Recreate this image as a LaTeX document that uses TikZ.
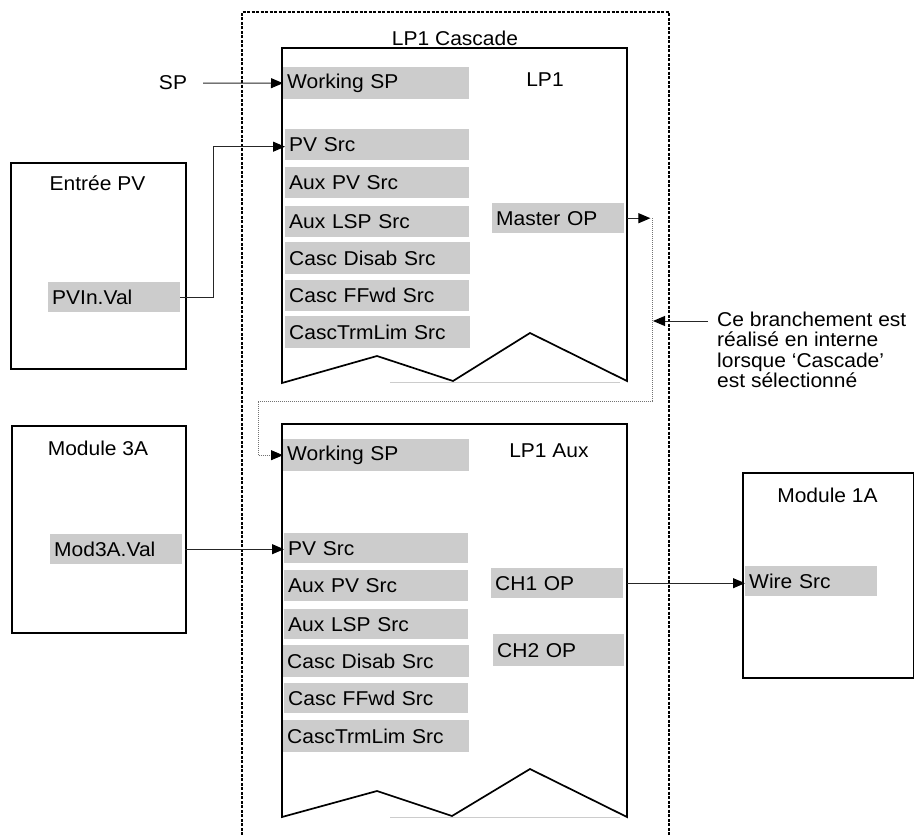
\documentclass[tikz,border=0pt]{standalone}
\usepackage{fontspec}
\setmainfont{Liberation Sans}[FakeStretch=1.05]
\usetikzlibrary{arrows.meta}
\definecolor{gfill}{RGB}{204,204,204}
\tikzset{
  gbox/.style={fill=gfill, inner xsep=4pt, inner ysep=0pt, align=left, anchor=north west},
  boxline/.style={draw=black, line width=1.7pt, line join=miter},
  mbox/.style={draw=black, line width=1.7pt, anchor=north west, inner sep=0pt},
  dashbox/.style={draw=black, line width=1.7pt, dash pattern=on 3pt off 1.5pt},
  conn/.style={draw=black!85, line width=1pt, -{Triangle[length=12pt,width=10pt,color=black]}},
  dotline/.style={draw=black!55, line width=0.8pt, dash pattern=on 1pt off 1pt, -{Triangle[length=12pt,width=10pt,color=black]}},
  lbl/.style={inner sep=0pt}
}
\newcommand\gbx[6]{\node[gbox, text width=#4pt, minimum height=#5pt] (#1) at (#2,#3) {#6};}
\begin{document}
\begin{tikzpicture}[x=1pt,y=-1pt,font=\fontsize{20}{20.3}\selectfont]
\useasboundingbox (0,0) rectangle (914,835);
% outer dashed frame
\draw[dashbox] (242,835) -- (242,12) -- (669,12) -- (669,835);
\node[lbl] (casc) at (455,38) {LP1 Cascade};
% LP1 block
\draw[boxline] (282,383) -- (282,48) -- (627,48) -- (627,381) -- (530,333) -- (453,381) -- (377,356) -- cycle;
\draw[gray!40, line width=1pt] (390,382) -- (620,382);
\node[lbl] (lp1) at (545,80) {LP1};
\gbx{ws1}{283}{67}{178}{32}{Working SP}
\gbx{pv1}{285}{129}{176}{31}{PV Src}
\gbx{apv1}{285}{167}{176}{31}{Aux PV Src}
\gbx{alsp1}{285}{206}{176}{31}{Aux LSP Src}
\gbx{cds1}{285}{242}{177}{32}{Casc Disab Src}
\gbx{cff1}{285}{280}{176}{31}{Casc FFwd Src}
\gbx{ctl1}{285}{316}{177}{32}{CascTrmLim Src}
\gbx{mop}{492}{203}{124}{30}{Master OP}
% LP1 Aux block
\draw[boxline] (282,817) -- (282,424) -- (627,424) -- (627,817) -- (530,769) -- (452,816) -- (377,791) -- cycle;
\draw[gray!40, line width=1pt] (390,817) -- (620,817);
\node[lbl] (lp1aux) at (549,451) {LP1 Aux};
\gbx{ws2}{283}{439}{178}{32}{Working SP}
\gbx{pv2}{284}{533}{176}{30}{PV Src}
\gbx{apv2}{284}{570}{176}{31}{Aux PV Src}
\gbx{alsp2}{284}{609}{176}{30}{Aux LSP Src}
\gbx{cds2}{283}{645}{178}{32}{Casc Disab Src}
\gbx{cff2}{284}{683}{176}{30}{Casc FFwd Src}
\gbx{ctl2}{283}{720}{178}{32}{CascTrmLim Src}
\gbx{ch1}{491}{568}{124}{30}{CH1 OP}
\gbx{ch2}{493}{634}{123}{32}{CH2 OP}
% Entree PV
\node[mbox, minimum width=175pt, minimum height=206pt] (epv) at (10,162) {};
\node[lbl] (epvt) at (97.5,183) {Entrée PV};
\gbx{pvin}{48}{282}{124}{30}{PVIn.Val}
% Module 3A
\node[mbox, minimum width=174pt, minimum height=207pt] (m3) at (11,425) {};
\node[lbl] (m3t) at (98,448) {Module 3A};
\gbx{mod3}{50}{534}{124}{30}{Mod3A.Val}
% Module 1A
\node[mbox, minimum width=171pt, minimum height=205pt] (m1) at (742,472) {};
\node[lbl] (m1t) at (827.5,495) {Module 1A};
\gbx{wire}{745}{566}{124}{30}{Wire Src}
% SP input
\node[lbl] (sp) at (173,83) {SP};
\draw[conn, shorten <=16pt] (sp.east) -- (ws1.west);
% connectors
\draw[conn] (pvin.east) -- ++(33,0) |- ([yshift=-2pt]pv1.west);
\draw[conn, shorten <=3pt] (mop.east) -- ++(26,0);
\draw[dotline] ([xshift=28pt]mop.east) |- (258,401) |- (ws2.west);
\draw[conn, shorten <=3pt] (mod3.east) -- (pv2.west |- mod3.east);
\draw[conn, shorten <=4pt] (ch1.east) -- (wire.west |- ch1.east);
% callout
\node[lbl, anchor=north west, align=left] (note) at (717,312) {Ce branchement est\\réalisé en interne\\lorsque ‘Cascade’\\est sélectionné};
\draw[conn] ([shift={(-9,9)}]note.north west) -- ++(-55,0);
\end{tikzpicture}
\end{document}
